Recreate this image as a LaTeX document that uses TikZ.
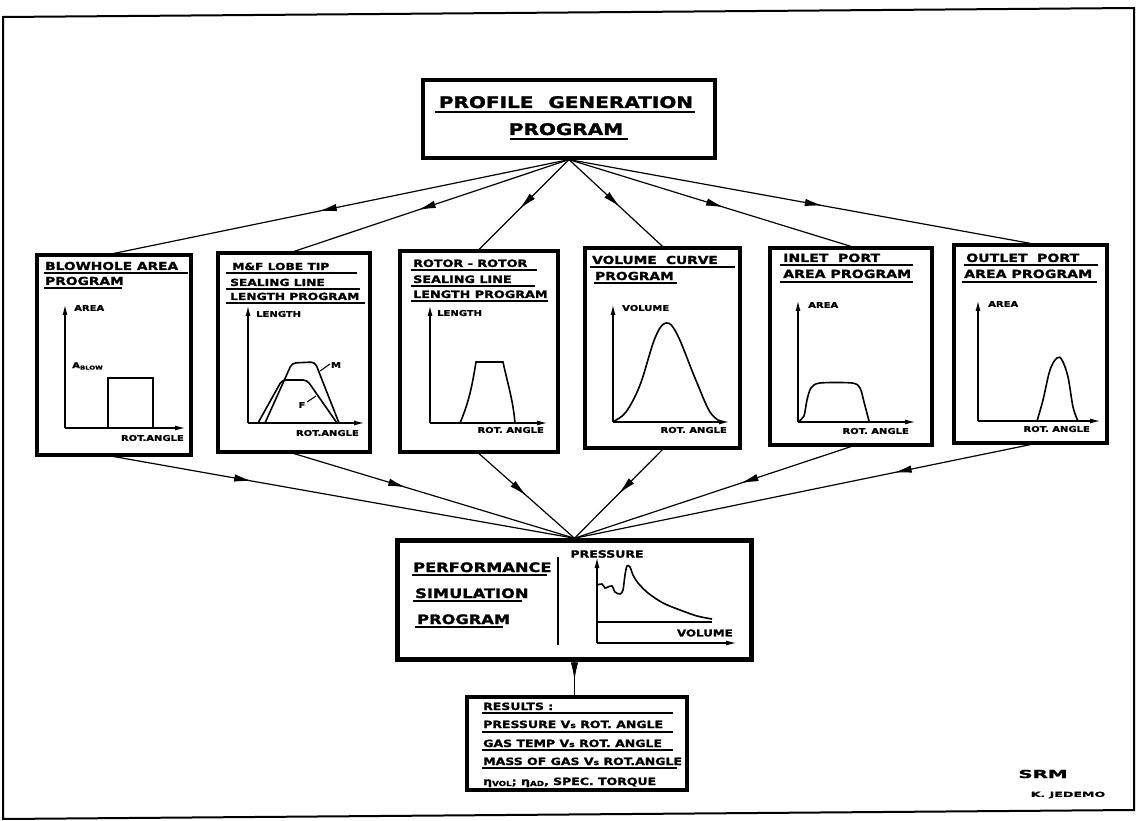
\documentclass[tikz,border=0pt]{standalone}
\usepackage{fontspec}
\newfontfamily\hand[FakeStretch=1.25,FakeBold=1.5]{DejaVu Sans}
\newfontfamily\handwide[FakeStretch=1.8,FakeBold=1.5]{DejaVu Sans}
\newcommand{\handsize}[1]{\hand\bfseries\fontsize{#1}{#1}\selectfont}
\newcommand{\widesize}[1]{\handwide\bfseries\fontsize{#1}{#1}\selectfont}
\usetikzlibrary{arrows.meta,decorations.markings}

\begin{document}
\begin{tikzpicture}[x=1pt,y=-1pt,>={Latex[length=18pt,width=7.5pt]},
  midarrow/.style={postaction={decorate},decoration={markings,mark=at position #1 with {\arrow{>}}}}]
  \tikzstyle{progbox}=[rectangle,draw=black,line width=3.2pt,inner sep=0pt]
  \tikzstyle{ttl}=[anchor=base west,inner sep=0pt,font=\handsize{10.5}]
  \tikzstyle{lbl}=[inner sep=0pt,font=\handsize{8}]
  \tikzstyle{ax}=[line width=1.6pt,-{Latex[length=11pt,width=5pt]}]
  \tikzstyle{curve}=[line width=1.6pt]
  \tikzstyle{uline}=[line width=1.1pt]
  \tikzstyle{feed}=[line width=1.2pt]

\useasboundingbox (0,0) rectangle (1136,821);
% sheet frame
\draw[line width=2pt] (3,17) -- (1134,8) -- (1134,810) -- (3,819) -- cycle;

% profile generation
\node [progbox,minimum width=292pt,minimum height=78pt] (pg) at (569,119) {};
\node [anchor=base,inner sep=0pt,font=\handsize{16}] (pgt1) at (566,108) {PROFILE\hspace{0.5em} GENERATION};
\node [anchor=base,inner sep=0pt,font=\handsize{16}] (pgt2) at (566,135) {PROGRAM};
\draw [uline] (435,112) -- (695,112);
\draw [uline] (510,139) -- (628,139);

% the six programs
\node [progbox,minimum width=154pt,minimum height=200pt] (blow) at (114,355) {};
\node [progbox,minimum width=152pt,minimum height=199pt] (lobe) at (294,352.5) {};
\node [progbox,minimum width=158pt,minimum height=201pt] (rr) at (479,351.5) {};
\node [progbox,minimum width=155pt,minimum height=200pt] (vol) at (662.5,348) {};
\node [progbox,minimum width=162pt,minimum height=197pt] (inl) at (851,346.5) {};
\node [progbox,minimum width=153pt,minimum height=198pt] (outl) at (1030.5,344) {};

\draw [feed,midarrow=0.55] (pg.south) -- (blow.north);
\draw [feed,midarrow=0.55] (pg.south) -- (lobe.north);
\draw [feed,midarrow=0.55] (pg.south) -- (rr.north);
\draw [feed,midarrow=0.55] (pg.south) -- (vol.north);
\draw [feed,midarrow=0.55] (pg.south) -- (inl.north);
\draw [feed,midarrow=0.55] (pg.south) -- (outl.north);

% blowhole area
\node [ttl,font=\handsize{11}] (blowt1) at (45,270) {BLOWHOLE AREA};
\node [ttl,font=\handsize{11}] (blowt2) at (45,285) {PROGRAM};
\draw [uline] (44,273) -- (188,273);
\draw [uline] (44,288) -- (122,288);
\draw [ax] (65,428) -- (65,304);
\draw [ax] (65,428) -- (186,428);
\node [lbl,anchor=west] (blowy) at (74,308) {AREA};
\node [lbl,anchor=west] (ablow) at (72,366) {A\raisebox{-1.5pt}{\handsize{5.5}BLOW}};
\draw [curve] (108,428) -- (108,378) -- (153,378) -- (153,428);
\node [lbl,anchor=east] (blowx) at (184,438) {ROT.ANGLE};

% M & F lobe tip
\node [ttl,font=\handsize{9.8}] (lobet1) at (232,270) {M\&F LOBE TIP};
\node [ttl,font=\handsize{9.8}] (lobet2) at (230,286) {SEALING LINE};
\node [ttl,font=\handsize{9.8}] (lobet3) at (230,300) {LENGTH PROGRAM};
\draw [uline] (226,273) -- (357,273);
\draw [uline] (226,289) -- (360,289);
\draw [uline] (226,303) -- (365,303);
\draw [ax] (248,423) -- (248,305);
\draw [ax] (248,423) -- (365,423);
\node [lbl,anchor=west] (lobey) at (256,314) {LENGTH};
\draw [curve,rounded corners=4pt] (265,423) -- (292,363) -- (315,362) -- (339,423);
\draw [curve,rounded corners=4pt] (258,423) -- (282,380) -- (307,380) -- (337,423);
\node [lbl] (lobem) at (336,365) {M};
\node [lbl] (lobef) at (302,405) {F};
\draw [uline] (320,371) -- (330,364);
\draw [uline] (307,402) -- (316,396);
\node [lbl,anchor=east] (lobex) at (359,433) {ROT.ANGLE};

% rotor - rotor
\node [ttl,font=\handsize{10.2}] (rrt1) at (413,267) {ROTOR - ROTOR};
\node [ttl,font=\handsize{10.2}] (rrt2) at (413,283) {SEALING LINE};
\node [ttl,font=\handsize{10.2}] (rrt3) at (413,298) {LENGTH PROGRAM};
\draw [uline] (411,270) -- (537,270);
\draw [uline] (411,286) -- (535,286);
\draw [uline] (411,301) -- (548,301);
\draw [ax] (430,423) -- (430,305);
\draw [ax] (430,423) -- (548,423);
\node [lbl,anchor=west] (rry) at (437,313) {LENGTH};
\draw [curve] (460,423) .. controls (470,400) and (473,380) .. (476,362) -- (503,362) .. controls (508,385) and (513,400) .. (515,423);
\node [lbl,anchor=east] (rrx) at (544,430) {ROT. ANGLE};

% volume curve
\node [ttl,font=\handsize{11}] (volt1) at (592,264) {VOLUME\hspace{0.4em} CURVE};
\node [ttl,font=\handsize{11}] (volt2) at (595,280) {PROGRAM};
\draw [uline] (590,267) -- (735,267);
\draw [uline] (594,283) -- (677,283);
\draw [ax] (613,422) -- (613,304);
\draw [ax] (613,422) -- (730,422);
\node [lbl,anchor=west] (voly) at (622,308) {VOLUME};
\draw [curve] plot [smooth,tension=0.6] coordinates {(614,421) (626,412) (640,385) (655,338) (666,323) (677,334) (695,378) (710,412) (722,422)};
\node [lbl,anchor=east] (volx) at (727,430) {ROT. ANGLE};

% inlet port
\node [ttl,font=\handsize{11.3}] (inlt1) at (783,262) {INLET\hspace{0.4em} PORT};
\node [ttl,font=\handsize{11.3}] (inlt2) at (783,278) {AREA PROGRAM};
\draw [uline] (780,265) -- (913,265);
\draw [uline] (780,282) -- (913,282);
\draw [ax] (798,422) -- (798,300);
\draw [ax] (798,422) -- (916,422);
\node [lbl,anchor=west] (inly) at (808,305) {AREA};
\draw [curve] plot [smooth,tension=0.5] coordinates {(799,421) (804,416) (807,400) (811,388) (820,383) (852,383) (860,388) (864,402) (869,421)};
\node [lbl,anchor=east] (inlx) at (909,431) {ROT. ANGLE};

% outlet port
\node [ttl,font=\handsize{11.3}] (outlt1) at (966,262) {OUTLET\hspace{0.4em} PORT};
\node [ttl,font=\handsize{11.3}] (outlt2) at (964,278) {AREA PROGRAM};
\draw [uline] (964,265) -- (1098,265);
\draw [uline] (962,282) -- (1097,282);
\draw [ax] (978,421) -- (978,300);
\draw [ax] (978,421) -- (1101,421);
\node [lbl,anchor=west] (outly) at (988,304) {AREA};
\draw [curve] plot [smooth,tension=0.6] coordinates {(1037,421) (1043,400) (1050,370) (1057,358) (1062,360) (1068,377) (1073,407) (1078,421)};
\node [lbl,anchor=east] (outlx) at (1090,429) {ROT. ANGLE};

% performance simulation
\node [progbox,line width=3.5pt,minimum width=355pt,minimum height=120pt] (perf) at (574.5,600) {};
\draw [line width=1.2pt] ([shift={(4.5,4.5)}]perf.north west) rectangle ([shift={(-4.5,-4.5)}]perf.south east);

\draw [feed,midarrow=0.3] (blow.south) -- (perf.north);
\draw [feed,midarrow=0.4] (lobe.south) -- (perf.north);
\draw [feed,midarrow=0.5] (rr.south) -- (perf.north);
\draw [feed,midarrow=0.5] (vol.south) -- (perf.north);
\draw [feed,midarrow=0.4] (inl.south) -- (perf.north);
\draw [feed,midarrow=0.3] (outl.south) -- (perf.north);

\node [ttl,font=\handsize{13}] (perft1) at (413,572) {PERFORMANCE};
\node [ttl,font=\handsize{13}] (perft2) at (415,598) {SIMULATION};
\node [ttl,font=\handsize{13}] (perft3) at (417,624) {PROGRAM};
\draw [uline] (412,575) -- (547,575);
\draw [uline] (413,601) -- (522,601);
\draw [uline] (415,627) -- (503,627);
\draw [line width=2pt] (558,557) -- (558,645);
\node [lbl,font=\handsize{10}] (perfy) at (607,554) {PRESSURE};
\draw [ax] (597,643) -- (597,557);
\draw [ax] (597,643) -- (737,643);
\node [lbl,anchor=east,font=\handsize{9.5}] (perfx) at (733,633) {VOLUME};
\draw [line width=1.4pt] (597,622) -- (712,622);
\draw [curve] plot [smooth,tension=0.5] coordinates {(597,585) (602,584) (605,588) (608,587) (612,586) (615,592) (620,594) (623,590) (625,575) (627,566) (630,567) (633,575) (638,583) (648,593) (663,603) (680,610) (697,616) (712,619)};

% results
\node [progbox,minimum width=220pt,minimum height=93pt] (res) at (577,743.5) {};
\draw [feed,midarrow=0.55] (perf.south) -- (perf.south |- res.north);
\node [ttl,font=\handsize{10}] (rest1) at (483,710) {RESULTS :};
\node [ttl,font=\handsize{10}] (rest2) at (483,728) {PRESSURE V{\handsize{7.5}s} ROT. ANGLE};
\node [ttl,font=\handsize{10}] (rest3) at (483,747) {GAS TEMP V{\handsize{7.5}s} ROT. ANGLE};
\node [ttl,font=\handsize{10}] (rest4) at (483,765) {MASS OF GAS V{\handsize{7.5}s} ROT.ANGLE};
\node [ttl,font=\handsize{10}] (rest5) at (483,785) {η\raisebox{-1pt}{\handsize{7}VOL}; η\raisebox{-1pt}{\handsize{7}AD}, SPEC. TORQUE};
\draw [uline] (482,713) -- (673,713);
\draw [uline] (482,732) -- (673,732);
\draw [uline] (482,750) -- (673,750);
\draw [uline] (482,768) -- (677,768);

% signature
\node [inner sep=0pt,font=\widesize{11}] (srm) at (1043,774) {SRM};
\node [inner sep=0pt,font=\widesize{7}] (sign) at (1068,795) {K. JEDEMO};
\end{tikzpicture}
\end{document}
